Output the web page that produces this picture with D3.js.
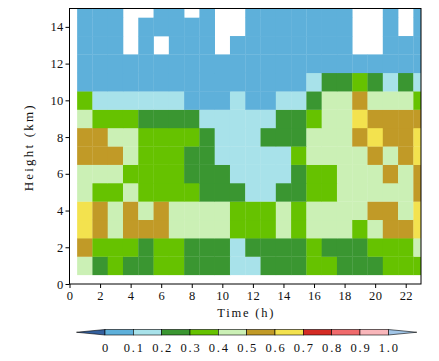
<!DOCTYPE html>
<html>
<head>
<meta charset="utf-8">
<script src="https://cdn.jsdelivr.net/npm/d3@7"></script>
<style>
  body { margin: 0; background: #fff; }
  text { font-family: "Liberation Serif", "Times New Roman", serif; fill: #111; }
</style>
</head>
<body>
<div id="chart"></div>
<script>
// hours (cell centres) and heights (cell centres, km)
const hours = d3.range(1, 24)
const heights = d3.range(1, 16)

// fraction per cell, one row per height (1 km .. 15 km), null = no data
const N = null
const fraction = [
  [0.45,0.25,0.35,0.25,0.25,0.35,0.35,0.25,0.25,0.25,0.15,0.15,0.25,0.25,0.25,0.35,0.35,0.25,0.25,0.25,0.35,0.35,0.35],
  [0.55,0.35,0.35,0.35,0.25,0.35,0.35,0.25,0.25,0.25,0.15,0.25,0.25,0.25,0.25,0.35,0.25,0.25,0.25,0.35,0.35,0.35,0.45],
  [0.65,0.55,0.45,0.55,0.55,0.55,0.45,0.45,0.45,0.45,0.35,0.35,0.35,0.45,0.35,0.45,0.45,0.45,0.35,0.45,0.55,0.55,0.65],
  [0.65,0.55,0.45,0.55,0.45,0.55,0.45,0.45,0.45,0.45,0.35,0.35,0.35,0.45,0.35,0.45,0.45,0.45,0.45,0.55,0.55,0.45,0.65],
  [0.45,0.35,0.35,0.45,0.35,0.35,0.35,0.35,0.25,0.25,0.25,0.15,0.15,0.25,0.25,0.35,0.35,0.45,0.45,0.45,0.45,0.45,0.55],
  [0.45,0.45,0.45,0.35,0.35,0.35,0.35,0.25,0.25,0.25,0.15,0.15,0.15,0.15,0.25,0.35,0.35,0.45,0.45,0.45,0.55,0.45,0.55],
  [0.55,0.55,0.55,0.45,0.35,0.35,0.35,0.25,0.25,0.15,0.15,0.15,0.15,0.15,0.35,0.45,0.45,0.45,0.45,0.55,0.45,0.55,0.65],
  [0.55,0.55,0.45,0.45,0.35,0.35,0.35,0.35,0.25,0.15,0.15,0.15,0.25,0.25,0.25,0.45,0.45,0.45,0.55,0.65,0.55,0.55,0.65],
  [0.45,0.35,0.35,0.35,0.25,0.25,0.25,0.25,0.15,0.15,0.15,0.15,0.15,0.25,0.25,0.35,0.45,0.45,0.65,0.55,0.55,0.55,0.55],
  [0.35,0.15,0.15,0.15,0.15,0.15,0.15,0.05,0.05,0.05,0.15,0.05,0.05,0.15,0.15,0.25,0.45,0.45,0.55,0.45,0.45,0.45,0.35],
  [0.05,0.05,0.05,0.05,0.05,0.05,0.05,0.05,0.05,0.05,0.05,0.05,0.05,0.05,0.05,0.15,0.25,0.25,0.35,0.25,0.15,0.25,0.15],
  [0.05,0.05,0.05,0.05,0.05,0.05,0.05,0.05,0.05,0.05,0.05,0.05,0.05,0.05,0.05,0.05,0.05,0.05,0.05,0.05,0.05,0.05,0.05],
  [0.05,0.05,0.05,N,0.05,N,0.05,0.05,0.05,N,0.05,0.05,0.05,0.05,0.05,0.05,0.05,0.05,N,N,0.05,0.05,0.05],
  [0.05,0.05,0.05,N,0.05,0.05,0.05,0.05,0.05,N,N,0.05,0.05,0.05,0.05,0.05,0.05,0.05,N,N,0.05,N,0.05],
  [0.05,0.05,0.05,N,N,0.05,0.05,N,0.05,N,N,0.05,0.05,0.05,0.05,0.05,0.05,0.05,N,N,0.05,N,0.05]
]

const xTicks = d3.range(0, 24, 2)
const yTicks = d3.range(0, 15, 2)
const levels = [0, 0.1, 0.2, 0.3, 0.4, 0.5, 0.6, 0.7, 0.8, 0.9, 1.0]
const levelLabels = ["0", "0.1", "0.2", "0.3", "0.4", "0.5", "0.6", "0.7", "0.8", "0.9", "1.0"]
const colors = ["#5eb0da", "#a8e2ea", "#3a9631", "#66c200", "#cbf0b5",
                "#c19a27", "#f3e24e", "#d42b24", "#f06a6c", "#f9b6ba"]

const W = 439, H = 361
const plot = { left: 69.5, right: 421, top: 8.5, bottom: 284 }

const svg = d3.select("#chart").append("svg")
    .attr("width", W)
    .attr("height", H)

const x = d3.scaleLinear().domain([0, 23]).range([plot.left, plot.right])
const y = d3.scaleLinear().domain([0, 15]).range([plot.bottom, plot.top])
const color = d3.scaleThreshold().domain(levels.slice(1, -1)).range(colors)

svg.append("clipPath").attr("id", "clip")
  .append("rect")
    .attr("x", plot.left).attr("y", plot.top)
    .attr("width", plot.right - plot.left)
    .attr("height", plot.bottom - plot.top)

const cells = []
fraction.forEach((row, i) => {
  row.forEach((v, j) => {
    if (v !== null) cells.push({ hour: hours[j], height: heights[i], value: v })
  })
})

svg.append("g").attr("clip-path", "url(#clip)")
  .selectAll("rect")
  .data(cells)
  .enter()
  .append("rect")
    .attr("x", d => x(d.hour - 0.5))
    .attr("y", d => y(d.height + 0.5))
    .attr("width", d => x(d.hour + 0.5) - x(d.hour - 0.5) + 0.3)
    .attr("height", d => y(d.height - 0.5) - y(d.height + 0.5) + 0.3)
    .attr("fill", d => color(d.value))

// frame
svg.append("rect")
    .attr("x", plot.left).attr("y", plot.top)
    .attr("width", plot.right - plot.left)
    .attr("height", plot.bottom - plot.top)
    .attr("fill", "none")
    .attr("stroke", "#000")
    .attr("stroke-width", 1)

const xAxis = svg.append("g")
    .attr("transform", `translate(0,${plot.bottom})`)
    .call(d3.axisBottom(x).tickValues(xTicks).tickSize(4).tickPadding(3).tickFormat(d3.format("d")))
const yAxis = svg.append("g")
    .attr("transform", `translate(${plot.left},0)`)
    .call(d3.axisLeft(y).tickValues(yTicks).tickSize(4).tickPadding(2).tickFormat(d3.format("d")))
;[xAxis, yAxis].forEach(a => {
  a.select(".domain").remove()
  a.selectAll("text").style("font-family", "Liberation Serif").style("font-size", "12.5px")
    .style("letter-spacing", "0.3px").attr("fill", "#111")
  a.selectAll("line").attr("stroke", "#000")
})

svg.append("text")
    .attr("x", (plot.left + plot.right) / 2 + 1)
    .attr("y", 317)
    .attr("text-anchor", "middle")
    .style("font-size", "12.5px")
    .style("letter-spacing", "1.8px")
    .text("Time (h)")

svg.append("text")
    .attr("transform", `translate(33,${(plot.top + plot.bottom) / 2 + 1}) rotate(-90)`)
    .attr("text-anchor", "middle")
    .style("font-size", "13px")
    .style("letter-spacing", "2.2px")
    .text("Height (km)")

// colour bar
const cb = { left: 105, right: 388.3, top: 329.5, height: 5.5, ext: 28.5 }
const cx = d3.scaleLinear().domain([0, 1]).range([cb.left, cb.right])
const bar = svg.append("g")

bar.append("path")
    .attr("d", `M${cb.left},${cb.top} L${cb.left - cb.ext},${cb.top + cb.height / 2} L${cb.left},${cb.top + cb.height} Z`)
    .attr("fill", "#34609e").attr("stroke", "#000").attr("stroke-width", 0.6)
bar.append("path")
    .attr("d", `M${cb.right},${cb.top} L${cb.right + cb.ext},${cb.top + cb.height / 2} L${cb.right},${cb.top + cb.height} Z`)
    .attr("fill", "#a2c6e8").attr("stroke", "#000").attr("stroke-width", 0.6)

bar.selectAll("rect")
  .data(colors)
  .enter()
  .append("rect")
    .attr("x", (c, i) => cx(levels[i]))
    .attr("y", cb.top)
    .attr("width", (c, i) => cx(levels[i + 1]) - cx(levels[i]))
    .attr("height", cb.height)
    .attr("fill", c => c)
    .attr("stroke", "#000")
    .attr("stroke-width", 0.6)

bar.selectAll("text")
  .data(levelLabels)
  .enter()
  .append("text")
    .attr("x", (t, i) => cx(levels[i]) + 1)
    .attr("y", 352)
    .attr("text-anchor", "middle")
    .style("font-size", "12.5px")
    .style("letter-spacing", "1.8px")
    .text(t => t)
</script>
</body>
</html>
